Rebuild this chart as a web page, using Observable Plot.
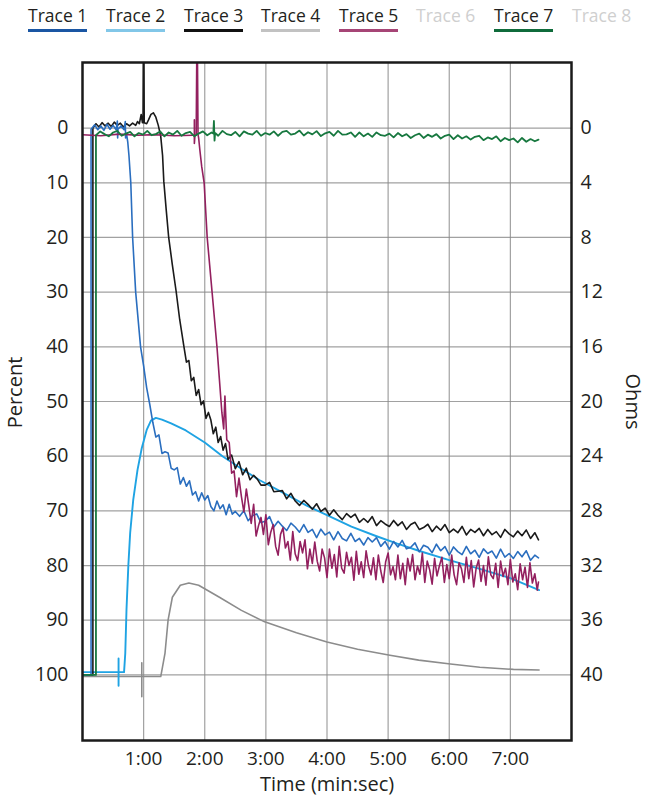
<!DOCTYPE html>
<html><head><meta charset="utf-8">
<script src="https://cdn.jsdelivr.net/npm/d3@7"></script>
<script src="https://cdn.jsdelivr.net/npm/@observablehq/plot@0.6"></script>
<style>
body{margin:0;background:#fff;font-family:"Open Sans",sans-serif;}
#legend{position:relative;width:648px;height:40px;}
.item{position:absolute;top:4px;width:59px;text-align:center;font-size:17.5px;color:#231f20;line-height:22px;white-space:nowrap;}
.item .bar{position:absolute;left:0;top:25px;width:59px;height:3px;}
.item.off{color:#cfcfcf;}
</style></head>
<body>
<div id="legend"></div>
<div id="chart"></div>
<script>
const legendNames = ["Trace 1","Trace 2","Trace 3","Trace 4","Trace 5","Trace 6","Trace 7","Trace 8"];
const legendColors = ["#1a56a3","#82c7e8","#111111","#c2c2c2","#a64576",null,"#0f6b3b",null];
const percentTicks = [0,10,20,30,40,50,60,70,80,90,100];
const ohmLabels = ["0","4","8","12","16","20","24","28","32","36","40"];
const timeTicks = [1,2,3,4,5,6,7];
const timeLabels = ["1:00","2:00","3:00","4:00","5:00","6:00","7:00"];

// [time (min), percent]
const trace1 = [[0,100],[0.14,100],[0.14,0.2],[0.2,-0.6],[0.25,0.3],[0.3,-0.4],[0.35,0.4],[0.4,-0.7],[0.45,0.2],[0.5,-0.5],[0.55,0.3],[0.57,-1.3],[0.575,1.8],[0.58,0.2],[0.63,-0.4],[0.68,0.3],[0.7,-1.2],[0.705,1.8],[0.72,1],[0.74,2.5],[0.76,5],[0.79,10],[0.82,20],[0.87,30],[0.95,40],[1.0,43.5],[1.05,47.5],[1.1,50.5],
[1.15,53.8],[1.2,56.5],[1.25,56.1],[1.3,59.5],[1.35,59.2],[1.4,59.4],[1.45,62.2],[1.5,62.5],[1.55,62.1],[1.6,65.1],[1.65,63.9],[1.7,65.5],[1.75,64.5],[1.8,67.1],[1.85,66.5],[1.9,68.2],[1.95,66.7],[2.0,68],[2.05,67.2],[2.1,69.2],[2.15,70],[2.2,68.2],[2.25,69.6],[2.3,68.9],[2.35,70.7],[2.4,68.8],[2.45,70.6],[2.5,70.1],
[2.57,71],[2.64,70],[2.71,71.8],[2.78,70.9],[2.85,70.55],[2.92,72.15],[2.99,71.9],[3.06,71.05],[3.13,72.95],[3.2,71.9],[3.27,72.8],[3.34,73.6],[3.41,72.25],[3.48,72.95],[3.55,73.9],[3.62,72.5],[3.69,73.95],[3.76,73.4],[3.83,74.9],[3.9,73.35],[3.97,74.4],[4.04,73.9],[4.11,75.3],[4.18,73.8],[4.25,75.05],[4.32,75.5],[4.39,74.1],[4.46,75.6],[4.53,75.05],[4.6,76.25],[4.67,74.9],[4.74,75.7],[4.81,74.9],[4.88,76.5],[4.95,75.6],[5.02,77],[5.09,75.6],[5.16,76.6],[5.23,75.4],[5.3,76.95],[5.37,76.65],[5.44,75.85],[5.51,77.5],[5.58,76.3],[5.65,76.65],[5.72,77.65],[5.79,76.1],[5.86,77.3],[5.93,76.55],[6.0,78.1],[6.07,76.6],[6.14,77.45],[6.21,78],[6.28,76.5],[6.35,77.85],[6.42,77.2],[6.49,78.5],[6.56,76.95],[6.63,77.8],[6.7,77.35],[6.77,78.65],[6.84,77],[6.91,78.45],[6.98,77.8],[7.05,78.7],[7.12,77.45],[7.19,78.4],[7.26,77.3],[7.33,79.05],[7.4,78.1],[7.46,78.6]];

const trace2 = [[0,99.5],[0.56,99.5],[0.59,99.5],[0.59,97],[0.59,102],[0.59,99.5],[0.68,99.5],[0.7,96],[0.72,88],[0.75,80],[0.78,74],[0.83,68],[0.9,62.5],[0.97,58.5],[1.05,55.2],[1.12,53.5],[1.2,53],[1.3,53.3],[1.45,54],[1.69,55.3],[2.0,57.5],[2.29,60],[2.6,62.3],[2.9,64.4],[3.3,66.8],[3.66,69],[4.0,70.8],[4.4,72.9],[4.8,74.6],[5.15,76],[5.5,77.3],[6.0,79],[6.5,80.6],[7.0,82.3],[7.47,84.5]];

const trace3 = [[0,100],[0.17,100],[0.17,0],[0.22,-0.8],[0.27,-0.2],[0.32,-1],[0.37,-0.4],[0.42,-0.9],[0.47,-0.3],[0.52,-1.1],[0.57,-0.5],[0.62,-0.9],[0.67,-0.2],[0.72,-0.8],[0.77,-0.4],[0.82,-0.9],[0.87,-0.5],[0.9,-1.2],[0.93,-0.8],[0.96,-2.5],[0.98,-1],[0.99,-1],[0.995,-14],[1.005,-14],[1.01,-1],[1.05,-0.8],[1.08,-1.5],[1.12,-2.5],[1.16,-2.8],[1.2,-2],[1.24,-0.5],[1.28,1.5],[1.31,5],[1.33,9.7],[1.37,15],[1.41,20],[1.47,25],[1.53,29.7],[1.59,35],
[1.66,40],[1.7,42.8],[1.74,42.5],[1.78,46.2],[1.82,45.6],[1.86,48.9],[1.9,47.8],[1.94,50.6],[1.98,49.9],[2.02,53.1],[2.06,52],[2.1,53.4],[2.14,55.9],[2.18,54.7],[2.22,57.5],[2.26,56.4],[2.3,58.9],[2.34,57.7],[2.38,60.6],[2.44,59.8],[2.5,62.3],[2.56,61],[2.62,63.4],[2.68,62.2],[2.74,64.3],[2.8,63.5],[2.86,64.2],[2.92,65.3],
[2.99,65.3],[3.06,64.8],[3.13,66.5],[3.2,66.4],[3.27,66.3],[3.34,67.8],[3.41,66.8],[3.48,68.2],[3.55,69],[3.62,68.1],[3.69,68.8],[3.76,69.7],[3.83,68.7],[3.9,70.1],[3.97,69.5],[4.04,70.8],[4.11,69.8],[4.18,70.8],[4.25,71.6],[4.32,70.5],[4.39,71.2],[4.46,70.6],[4.53,72.1],[4.6,71.4],[4.67,72.1],[4.74,71.05],[4.81,72.7],[4.88,71.8],[4.95,72.4],[5.02,72.85],[5.09,71.75],[5.16,72.7],[5.23,72],[5.3,73.4],[5.37,72.5],[5.44,72.1],[5.51,73.4],[5.58,73.05],[5.65,72.45],[5.72,73.8],[5.79,72.8],[5.86,73.55],[5.93,72.5],[6.0,74],[6.07,73.35],[6.14,74],[6.21,72.85],[6.28,74.4],[6.35,73.4],[6.42,73.95],[6.49,73.2],[6.56,74.55],[6.63,73.4],[6.7,74.35],[6.77,73.8],[6.84,74.85],[6.91,73.4],[6.98,74.2],[7.05,74.75],[7.12,73.7],[7.19,74.55],[7.26,73.5],[7.33,75.05],[7.4,74],[7.46,75.3]];

const trace4 = [[0,100.3],[0.97,100.3],[0.97,97.8],[0.97,104],[0.97,100.3],[1.28,100.3],[1.31,98.5],[1.35,96],[1.4,90],[1.47,85.8],[1.6,83.6],[1.74,83.2],[1.9,83.6],[2.24,85.8],[2.6,88.2],[2.98,90.3],[3.5,92.3],[4.0,94],[4.5,95.3],[5.03,96.4],[5.5,97.3],[6.02,98],[6.5,98.6],[7.05,99],[7.47,99.1]];

const trace5 = [[0,1.2],[0.3,1.4],[0.6,1.1],[0.9,1.3],[1.2,1.2],[1.5,1.4],[1.8,1.3],[1.83,1.3],[1.83,-1.5],[1.83,2.8],[1.84,1.3],[1.86,1.3],[1.87,-14],[1.88,-14],[1.89,1.2],[1.9,1.8],[1.92,4],[1.95,7],[1.99,10],[2.04,20],[2.08,25],[2.12,30],[2.16,35],[2.2,40],[2.24,46],[2.28,52],[2.31,55],[2.33,49],[2.36,57],
[2.4,57.5],[2.44,63.1],[2.48,62.7],[2.52,67.4],[2.56,64],[2.6,67.4],[2.64,70.2],[2.68,66],[2.72,69],[2.76,72.3],[2.8,68.8],[2.84,74.6],[2.88,72.7],[2.92,71.2],[2.96,74.3],[3.0,70.7],[3.04,76.2],[3.08,73.9],[3.12,72.5],[3.16,76.5],[3.2,78.1],[3.24,74.3],[3.28,73.1],[3.32,76.8],[3.36,75.6],[3.4,79],[3.44,73.8],[3.48,77.9],[3.52,79.1],[3.56,75.6],[3.6,77.7],[3.64,75.3],[3.68,80.6],[3.72,77],[3.76,79.6],[3.8,75.7],[3.84,79.2],[3.88,81],[3.92,77],[3.96,78.6],[4.0,82.2],[4.04,77],[4.08,80.5],[4.12,78],[4.16,82.1],[4.2,76.5],[4.24,80.5],[4.28,81.4],[4.32,77.6],[4.36,80],[4.4,78.5],[4.44,82.7],[4.48,77.4],[4.52,81.6],[4.56,79.3],[4.6,82.2],[4.64,77.3],[4.68,80.1],[4.72,81.7],[4.76,78.6],[4.8,82.6],[4.84,78.1],[4.88,81],[4.92,83.1],[4.96,79.3],[5.0,77.7],[5.04,81.7],[5.08,80.2],[5.12,82.6],[5.16,78.1],[5.2,82.4],[5.24,79.6],[5.28,83.5],[5.32,78.7],[5.36,81],[5.4,78],[5.44,82.6],[5.48,80.1],[5.52,81.6],[5.56,77.7],[5.6,83.1],[5.64,79.2],[5.68,80.8],[5.72,83.4],[5.76,78.7],[5.8,81.9],[5.84,80],[5.88,78.5],[5.92,83.1],[5.96,79.8],[6.0,82.4],[6.04,78.1],[6.08,81.7],[6.12,83.5],[6.16,79.5],[6.2,80.6],[6.24,83.1],[6.28,78.5],[6.32,82.4],[6.36,79.1],[6.4,83.9],[6.44,80.5],[6.48,79],[6.52,82.9],[6.56,80],[6.6,83.6],[6.64,78.4],[6.68,81.7],[6.72,82.4],[6.76,79.6],[6.8,84],[6.84,79.2],[6.88,82],[6.92,80.5],[6.96,83.5],[7.0,78.9],[7.04,83],[7.08,81.5],[7.12,84.4],[7.16,79.7],[7.2,82.6],[7.24,80.3],[7.28,84],[7.32,79.5],[7.36,83.2],[7.4,81.5],[7.44,84.5],[7.46,83]];

const trace7 = [[0,100],[0.22,100],[0.22,1.3],[0.29,0.6],[0.36,1.1],[0.43,1.5],[0.5,0.8],[0.57,0.5],[0.64,1.4],[0.71,1],[0.78,0.7],[0.85,1.5],[0.92,0.9],[0.99,1.2],[1.06,0.5],[1.13,1.3],[1.2,1.1],[1.27,0.6],[1.34,1.5],[1.41,0.8],[1.48,1.2],[1.55,0.5],[1.62,1.4],[1.69,0.9],[1.76,0.7],[1.83,1.5],[1.9,1],[1.97,0.6],[2.04,1.3],[2.11,0.8],[2.14,1],[2.15,-1.3],[2.16,2.3],[2.17,0.9],[2.22,1.4],[2.29,0.5],[2.36,1.1],[2.43,1.3],[2.5,0.7],[2.57,1.5],[2.64,0.6],[2.71,1],[2.78,1.2],[2.85,0.5],[2.92,1.4],[2.99,0.9],[3.06,1.2],[3.13,0.6],[3.2,1.4],[3.27,0.7],[3.34,0.5],[3.41,1.2],[3.48,1],[3.55,0.45],[3.62,1.35],[3.69,0.75],[3.76,1.15],[3.83,0.55],[3.9,1.45],[3.97,0.95],[4.04,0.7],[4.11,1.4],[4.18,0.5],[4.25,1.2],[4.32,1.15],[4.39,0.8],[4.46,1.6],[4.53,0.8],[4.6,1.5],[4.67,1],[4.74,1.6],[4.81,0.8],[4.88,1.3],[4.95,1.4],[5.02,1],[5.09,1.7],[5.16,0.9],[5.23,1.5],[5.3,1.1],[5.37,1.8],[5.44,1.3],[5.51,1],[5.58,1.8],[5.65,1.2],[5.72,1.6],[5.79,1.1],[5.86,1.9],[5.93,1.4],[6.0,1.2],[6.07,2],[6.14,1.3],[6.21,1.9],[6.28,1.5],[6.35,2.1],[6.42,1.6],[6.49,1.4],[6.56,2.2],[6.63,1.7],[6.7,2],[6.77,1.5],[6.84,2.4],[6.91,1.8],[6.98,2.2],[7.05,1.9],[7.12,2.6],[7.19,1.8],[7.26,2.5],[7.33,2],[7.4,2.4],[7.46,2.1]];

// legend
const lg = document.getElementById("legend");
const lefts = [28,106,184,261,339,416,494,572];
legendNames.forEach((n,i)=>{
  const d = document.createElement("div");
  d.className = "item" + (legendColors[i] ? "" : " off");
  d.style.left = lefts[i] + "px";
  d.textContent = n;
  if (legendColors[i]) {
    const b = document.createElement("div");
    b.className = "bar"; b.style.background = legendColors[i];
    d.appendChild(b);
  }
  lg.appendChild(d);
});

const L = (data, stroke, w=1.6) => Plot.line(data, {x: d=>d[0], y: d=>d[1], stroke, strokeWidth: w, clip: true});

const chart = Plot.plot({
  width: 648, height: 757,
  marginTop: 22, marginBottom: 57, marginLeft: 82, marginRight: 77,
  x: {domain: [0, 8]},
  y: {domain: [-12, 112], reverse: true},
  style: {fontFamily: "Open Sans", fontSize: "19px", color: "#231f20", background: "#fff"},
  marks: [
    Plot.gridY(percentTicks, {stroke: "#8a8a8a", strokeOpacity: 0.8, strokeWidth: 1.2}),
    Plot.gridX(timeTicks, {stroke: "#8a8a8a", strokeOpacity: 0.8, strokeWidth: 1.2}),
    L(trace4, "#8c8c8c"),
    L(trace2, "#1fa3e3", 1.9),
    L(trace3, "#1a1a1a"),
    L(trace1, "#2a6ebf"),
    L(trace5, "#93205f"),
    L(trace7, "#17783f", 1.8),
    Plot.frame({stroke: "#1a1a1a", strokeWidth: 2.5}),
    Plot.axisY(percentTicks, {anchor: "left", tickSize: 0, tickPadding: 14, label: null, fontSize: 19.5}),
    Plot.axisY(percentTicks, {anchor: "right", tickSize: 0, tickPadding: 9, label: null, fontSize: 19.5, tickFormat: (d, i) => ohmLabels[i]}),
    Plot.axisX(timeTicks, {anchor: "bottom", tickSize: 0, tickPadding: 11, label: null, fontSize: 19, tickFormat: (d, i) => timeLabels[i]}),
    Plot.text(["Percent"], {frameAnchor: "left", textAnchor: "middle", rotate: -90, dx: -67, dy: -9, fontSize: 20}),
    Plot.text(["Ohms"], {frameAnchor: "right", textAnchor: "middle", rotate: 90, dx: 61, dy: 0, fontSize: 20}),
    Plot.text(["Time (min:sec)"], {frameAnchor: "bottom", dy: 50, fontSize: 20})
  ]
});
document.getElementById("chart").appendChild(chart);
</script>
</body></html>
